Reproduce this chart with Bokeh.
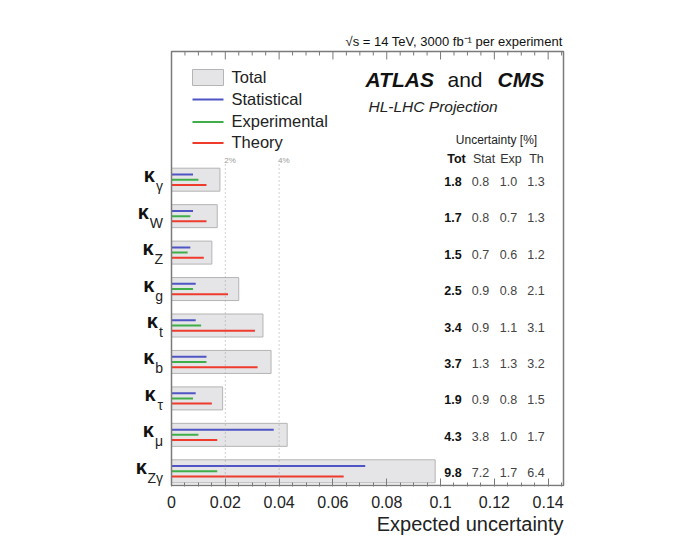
from bokeh.plotting import figure
from bokeh.models import Range1d, LinearAxis, FixedTicker, Label, Title
from bokeh.embed import file_html
from bokeh.resources import INLINE

# ---------------- data ----------------
subscripts = ["γ", "W", "Z", "g", "t", "b", "τ", "μ", "Zγ"]   # kappa_X, top to bottom
tot = [1.8, 1.7, 1.5, 2.5, 3.4, 3.7, 1.9, 4.3, 9.8]             # %
stat = [0.8, 0.8, 0.7, 0.9, 0.9, 1.3, 0.9, 3.8, 7.2]
expe = [1.0, 0.7, 0.6, 0.8, 1.1, 1.3, 0.8, 1.0, 1.7]
theo = [1.3, 1.3, 1.2, 2.1, 3.1, 3.2, 1.5, 1.7, 6.4]
x_ticks = [0, 0.02, 0.04, 0.06, 0.08, 0.1, 0.12, 0.14]
x_tick_labels = ["0", "0.02", "0.04", "0.06", "0.08", "0.1", "0.12", "0.14"]
x_max = 0.1457
grid_vals = [0.02, 0.04]
grid_labels = ["2%", "4%"]
legend_items = ["Total", "Statistical", "Experimental", "Theory"]
table_cols = ["Tot", "Stat", "Exp", "Th"]

# ---------------- layout helpers ----------------
W, H = 695, 558
VL, VR, VT, VB = 171, 563, 51, 485          # drawn (visual) frame, px
RL, RR, RT, RB = 118, 565, 28, 486          # real plotting frame, px
PXX = (VR - VL) / x_max                     # px per x unit
PPU = 36.45                                 # px per category
Y_ZERO_PX = 470.8                           # px of category index 0


def px2x(px):
    return (px - VL) / PXX


def px2y(py):
    return (Y_ZERO_PX - py) / PPU


def y2px(y):
    return Y_ZERO_PX - y * PPU


C_BLUE = "#4f55c4"
C_GREEN = "#3fae49"
C_RED = "#ee3b2c"
C_FILL = "#e5e5e7"
C_EDGE = "#b4b4b4"
C_FRAME = "#7a7a7a"
FONT = "Liberation Sans"

n = len(tot)
ypos = [n - 1 - i for i in range(n)]
off = 5.2 / PPU
half = 11.5 / PPU

p = figure(width=W, height=H,
           x_range=Range1d(px2x(RL), px2x(RR)), y_range=Range1d(px2y(RB), px2y(RT)),
           output_backend="svg", toolbar_location=None,
           x_axis_location=None, y_axis_location=None,
           min_border_left=RL, min_border_right=W - RR,
           min_border_top=RT, min_border_bottom=H - RB)
p.xgrid.visible = False
p.ygrid.visible = False
p.outline_line_color = None
p.background_fill_color = "white"
p.border_fill_color = "white"

minor = [k * 0.005 for k in range(0, 30) if k % 4 != 0]
ax = LinearAxis(ticker=FixedTicker(ticks=x_ticks, minor_ticks=minor))
ax.axis_line_color = None
ax.major_tick_in = 8
ax.major_tick_out = 0
ax.minor_tick_in = 4
ax.minor_tick_out = 0
ax.major_tick_line_color = C_FRAME
ax.minor_tick_line_color = C_FRAME
ax.major_label_overrides = {t: l for t, l in zip(x_ticks, x_tick_labels)}
ax.major_label_text_font = FONT
ax.major_label_text_font_size = "16px"
ax.major_label_text_color = "#222222"
ax.major_label_standoff = 9
p.add_layout(ax, "below")
p.add_layout(Title(text="Expected uncertainty", align="right", text_font=FONT,
                   text_font_size="20px", text_font_style="normal",
                   text_color="#222222", offset=2, standoff=0), "below")

# ---------------- bars ----------------
p.quad(left=[0] * n, right=[v / 100 for v in tot],
       bottom=[y - half for y in ypos], top=[y + half for y in ypos],
       fill_color=C_FILL, line_color=C_EDGE, line_width=1)
p.segment(x0=[0] * n, x1=[v / 100 for v in stat], y0=[y + off for y in ypos],
          y1=[y + off for y in ypos], line_color=C_BLUE, line_width=2)
p.segment(x0=[0] * n, x1=[v / 100 for v in expe], y0=ypos, y1=ypos,
          line_color=C_GREEN, line_width=2)
p.segment(x0=[0] * n, x1=[v / 100 for v in theo], y0=[y - off for y in ypos],
          y1=[y - off for y in ypos], line_color=C_RED, line_width=2)

# dotted reference lines
p.segment(x0=grid_vals, x1=grid_vals, y0=[px2y(164)] * len(grid_vals),
          y1=[px2y(VB)] * len(grid_vals), line_color="#a0a0a0", line_width=1,
          line_dash="1 3")

# visual frame and mirrored top ticks
p.quad(left=[0], right=[x_max], bottom=[px2y(VB)], top=[px2y(VT)],
       fill_color=None, line_color=C_FRAME, line_width=1.5)
p.segment(x0=x_ticks, x1=x_ticks, y0=[px2y(VT)] * len(x_ticks),
          y1=[px2y(VT + 8)] * len(x_ticks), line_color=C_FRAME, line_width=1)
p.segment(x0=minor, x1=minor, y0=[px2y(VT)] * len(minor),
          y1=[px2y(VT + 4)] * len(minor), line_color=C_FRAME, line_width=1)


def lab(text, px, py, size, align="left", style="normal", color="#111111"):
    p.add_layout(Label(x=px2x(px), y=px2y(py), text=text,
                       text_font=FONT, text_font_size=f"{size}px",
                       text_align=align, text_baseline="middle",
                       text_font_style=style, text_color=color))


for g, gl in zip(grid_vals, grid_labels):
    gx = VL + g * PXX
    lab(gl, gx - 1, 160, 8, color="#9a9a9a")

# ---------------- y labels (kappa with subscripts) ----------------
sub_w = {"γ": 7.5, "W": 13.5, "Z": 8.8, "g": 8.0, "t": 4.5, "b": 8.0,
         "τ": 6.8, "μ": 8.5, "Zγ": 15.5}
for s, y in zip(subscripts, ypos):
    yc = y2px(y)
    lab(s, 162.5, yc + 6.5, 14, align="right", color="#222222")
    lab("κ", 162.5 - sub_w[s] - 0.5, yc - 4.5, 20, align="right", style="bold",
        color="#111111")

# ---------------- table ----------------
lab("Uncertainty [%]", 496, 139, 12, align="center", color="#222222")
col_hdr_x = [456, 483.5, 510.5, 536]
col_val_x = [452.5, 480, 508, 535.5]
for t, cx in zip(table_cols, col_hdr_x):
    lab(t, cx, 158.5, 12.5, align="center", style="bold" if t == "Tot" else "normal",
        color="#111111" if t == "Tot" else "#333333")
for i, y in enumerate(ypos):
    yc = y2px(y) + 1.5
    vals = [tot[i], stat[i], expe[i], theo[i]]
    for j, (v, cx) in enumerate(zip(vals, col_val_x)):
        lab(f"{v:.1f}", cx, yc, 12.5, align="center",
            style="bold" if j == 0 else "normal",
            color="#111111" if j == 0 else "#444444")

# ---------------- legend ----------------
p.quad(left=[px2x(192)], right=[px2x(223)], bottom=[px2y(85)], top=[px2y(69)],
       fill_color=C_FILL, line_color=C_EDGE, line_width=1)
leg_y = [99, 121.5, 142.5]
for c, ly in zip([C_BLUE, C_GREEN, C_RED], leg_y):
    p.segment(x0=[px2x(192)], x1=[px2x(223)], y0=[px2y(ly)], y1=[px2y(ly)],
              line_color=c, line_width=2)
for t, ly in zip(legend_items, [77] + leg_y):
    lab(t, 231, ly - 1, 16.5, color="#222222")

# ---------------- titles ----------------
lab("ATLAS", 365, 78.5, 21, style="bold italic")
lab("and", 447, 78.5, 21, color="#111111")
lab("CMS", 497, 78.5, 21, style="bold italic")
lab("HL-LHC Projection", 368, 105.5, 15.5, style="italic", color="#222222")
lab("√s = 14 TeV, 3000 fb⁻¹ per experiment", 562, 41, 13, align="right",
    color="#111111")

open("out.html", "w").write(file_html(p, INLINE))
